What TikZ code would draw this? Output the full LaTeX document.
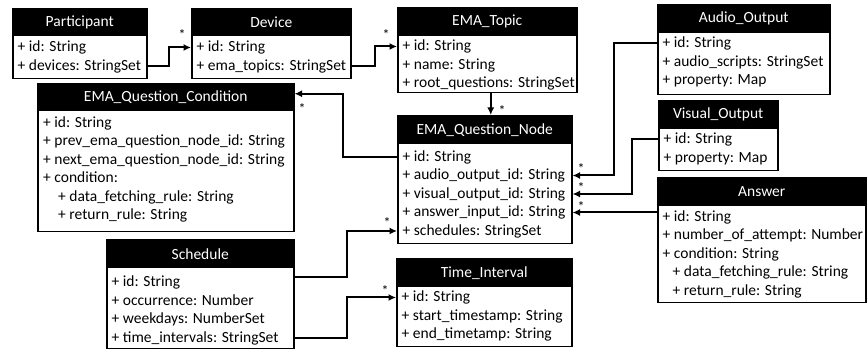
\documentclass[tikz,border=0pt]{standalone}
\usepackage{fontspec}
\setmainfont{Carlito}
\usetikzlibrary{arrows.meta,calc}
\tikzset{
  hdr/.style={draw=black, fill=black, text=white, line width=1.5pt, anchor=north west, inner sep=0pt,
    font=\fontsize{15.5}{18.7}\selectfont},
  bodybox/.style={draw=black, fill=white, line width=1.5pt, anchor=north west, inner sep=0pt},
  row/.style={anchor=west, inner sep=0pt, text height=12pt, text depth=3pt,
    font=\fontsize{15.5}{18.7}\selectfont},
  conn/.style={line width=2pt, -{Latex[length=7.5pt,width=7pt]}},
  mult/.style={inner sep=0pt, font=\fontsize{14}{14}\selectfont}
}
\newcommand\umlcls[7]{%
  \node[hdr, minimum width={(#4-#2)*1pt}, minimum height={(#5-#3)*1pt}] (#1) at (#2,#3) {#7};
  \node[bodybox, minimum width={(#4-#2)*1pt}, minimum height={(#6-#5)*1pt}] (#1b) at (#2,#5) {};}
\begin{document}
\begin{tikzpicture}[x=1pt,y=-1pt]
\useasboundingbox (0,0) rectangle (867,352);

% Participant
\umlcls{P}{12}{8}{146}{35}{78}{Participant}
\node[row] (P1) at (17.5,47.5) {+ id: String};
\node[row] (P2) at (17.5,66) {+ devices: StringSet};
% Device
\umlcls{D}{191}{8}{350}{35}{78}{Device}
\node[row] (D1) at (196.5,47.5) {+ id: String};
\node[row] (D2) at (196.5,66) {+ ema\_topics: StringSet};
% EMA_Topic
\umlcls{E}{397}{7}{576}{35}{92}{EMA\_Topic}
\node[row] (E1) at (402.5,46.5) {+ id: String};
\node[row] (E2) at (402.5,65) {+ name: String};
\node[row] (E3) at (402.5,83.5) {+ root\_questions: StringSet};
% Audio_Output
\umlcls{A}{657}{4}{829}{32}{94}{Audio\_Output}
\node[row] (A1) at (662.5,43.5) {+ id: String};
\node[row] (A2) at (662.5,62) {+ audio\_scripts: StringSet};
\node[row] (A3) at (662.5,80.5) {+ property: Map};
% Visual_Output
\umlcls{V}{658}{100}{777}{128}{170}{Visual\_Output}
\node[row] (V1) at (663.5,139.5) {+ id: String};
\node[row] (V2) at (663.5,158) {+ property: Map};
% Answer
\umlcls{W}{657}{177}{865}{205}{302}{Answer}
\node[row] (W1) at (662.5,217) {+ id: String};
\node[row] (W2) at (662.5,235.5) {+ number\_of\_attempt: Number};
\node[row] (W3) at (662.5,254) {+ condition: String};
\node[row] (W4) at (672.5,272.5) {+ data\_fetching\_rule: String};
\node[row] (W5) at (672.5,291) {+ return\_rule: String};
% EMA_Question_Condition
\umlcls{C}{37}{83}{293}{110}{231}{EMA\_Question\_Condition}
\node[row] (C1) at (43,123) {+ id: String};
\node[row] (C2) at (43,141.5) {+ prev\_ema\_question\_node\_id: String};
\node[row] (C3) at (43,160) {+ next\_ema\_question\_node\_id: String};
\node[row] (C4) at (43,178.5) {+ condition:};
\node[row] (C5) at (58,197) {+ data\_fetching\_rule: String};
\node[row] (C6) at (58,215.5) {+ return\_rule: String};
% EMA_Question_Node
\umlcls{N}{397}{115}{571}{143}{243}{EMA\_Question\_Node}
\node[row] (N1) at (402.5,157) {+ id: String};
\node[row] (N2) at (402.5,175.5) {+ audio\_output\_id: String};
\node[row] (N3) at (402.5,194) {+ visual\_output\_id: String};
\node[row] (N4) at (402.5,212.5) {+ answer\_input\_id: String};
\node[row] (N5) at (402.5,231) {+ schedules: StringSet};
% Schedule
\umlcls{S}{106}{239}{293}{267}{348}{Schedule}
\node[row] (S1) at (111.5,282.5) {+ id: String};
\node[row] (S2) at (111.5,301) {+ occurrence: Number};
\node[row] (S3) at (111.5,319.5) {+ weekdays: NumberSet};
\node[row] (S4) at (111.5,338) {+ time\_intervals: StringSet};
% Time_Interval
\umlcls{T}{396}{258}{571}{286}{346}{Time\_Interval}
\node[row] (T1) at (401.5,297.5) {+ id: String};
\node[row] (T2) at (401.5,316) {+ start\_timestamp: String};
\node[row] (T3) at (401.5,334.5) {+ end\_timetamp: String};

% connectors
\draw[conn] (Pb.east |- P2) -- ++(21,0) |- (Db.west |- D1);
\draw[conn] (Db.east |- D2) -- ++(23,0) |- (Eb.west |- E1);
\draw[conn] ([xshift=6pt]N.north |- Eb.south) -- ([xshift=6pt]N.north);
\draw[conn] (Nb.west |- N1) -- ++(-54,0) |- ([yshift=3.5pt]C.east);
\draw[conn] (Ab.west |- A1) -- ++(-43,0) |- (Nb.east |- N2);
\draw[conn] (Vb.west |- V1) -- ++(-26,0) |- (Nb.east |- N3);
\draw[conn] (Wb.west |- N4) -- (Nb.east |- N4);
\draw[conn] ([yshift=5pt]Sb.east |- S1) -- ++(52,0) |- (Nb.west |- N5);
\draw[conn] (Sb.east |- S4) -- ++(52,0) |- (Tb.west |- T1);

% multiplicities
\node[mult] (m1) at (182,35) {*};
\node[mult] (m2) at (386,35) {*};
\node[mult] (m3) at (502,111) {*};
\node[mult] (m4) at (302,109) {*};
\node[mult] (m5) at (581,169) {*};
\node[mult] (m6) at (581,188) {*};
\node[mult] (m7) at (581,207) {*};
\node[mult] (m8) at (387,223) {*};
\node[mult] (m9) at (385,291) {*};
\end{tikzpicture}
\end{document}
